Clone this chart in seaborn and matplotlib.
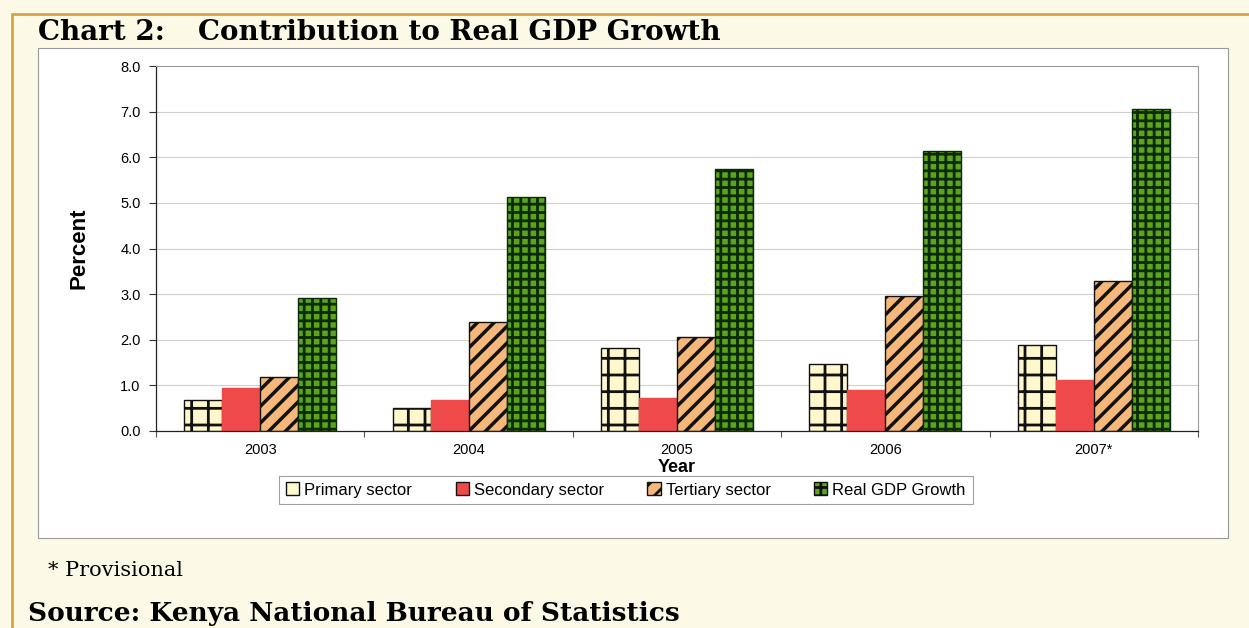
import matplotlib
matplotlib.use("Agg")
import matplotlib.pyplot as plt
from matplotlib.patches import Patch, Rectangle
from matplotlib.lines import Line2D
import numpy as np
import pandas as pd
import seaborn as sns

years = ["2003", "2004", "2005", "2006", "2007*"]
sectors = ["Primary sector", "Secondary sector", "Tertiary sector", "Real GDP Growth"]
primary = [0.68, 0.50, 1.82, 1.47, 1.89]
secondary = [0.94, 0.68, 0.72, 0.90, 1.12]
tertiary = [1.18, 2.39, 2.06, 2.96, 3.29]
gdp_growth = [2.92, 5.13, 5.75, 6.14, 7.06]

colors = ["#fff8cc", "#ef4a4a", "#f6b87a", "#5aa51c"]
hatches = ["+", "", "//", "++"]
edges = ["#111111", "#ef4a4a", "#111111", "#0d2a05"]

df = pd.DataFrame({
    "Year": years * 4,
    "Sector": [s for s in sectors for _ in years],
    "Value": primary + secondary + tertiary + gdp_growth,
})

sns.set_theme(style="white")
plt.rcParams["hatch.linewidth"] = 2.0
plt.rcParams["font.family"] = ["Liberation Sans", "DejaVu Sans"]
for key in ["text.color", "axes.labelcolor", "xtick.labelcolor", "ytick.labelcolor"]:
    plt.rcParams[key] = "black"

cream = "#fcf9e6"
fig = plt.figure(figsize=(12.49, 6.28), dpi=100, facecolor=cream)

# page frame: orange rule on top/left, white panel holding the chart
fig.add_artist(Line2D([12 / 1249, 1.0], [1 - 14 / 628, 1 - 14 / 628], color="#d9a441", lw=2))
fig.add_artist(Line2D([12 / 1249, 12 / 1249], [0, 1 - 14 / 628], color="#d9a441", lw=2))
fig.add_artist(Rectangle((38 / 1249, 1 - 538 / 628), (1228 - 38) / 1249, (538 - 48) / 628,
                         facecolor="white", edgecolor="#9a9a9a", lw=0.8, zorder=0))

ax = fig.add_axes([156 / 1249, 1 - 431 / 628, (1198 - 156) / 1249, (431 - 66) / 628])
ax.set_facecolor("white")

sns.barplot(data=df, x="Year", y="Value", hue="Sector", hue_order=sectors,
            palette=colors, width=0.73, saturation=1, legend=False, ax=ax)

for cont, h, ec in zip(ax.containers, hatches, edges):
    for bar in cont:
        bar.set_hatch(h)
        bar.set_edgecolor(ec)
        bar.set_linewidth(1.0)
        if hasattr(bar, "set_hatch_linewidth"):
            bar.set_hatch_linewidth(2.5 if h == "//" else 2.0)

ax.set_ylim(0, 8)
ax.set_xlim(-0.5, 4.5)
ax.set_yticks(np.arange(0, 8.01, 1.0))
ax.set_yticklabels([f"{v:.1f}" for v in np.arange(0, 8.01, 1.0)], fontsize=10.5)
ax.yaxis.grid(True, color="#cfcfcf", lw=0.8)
ax.set_axisbelow(True)
ax.tick_params(axis="y", left=True, length=5, width=0.8, color="#333333", pad=6)
ax.set_xticks(range(len(years)))
ax.set_xticklabels(years, fontsize=10.5)
ax.tick_params(axis="x", bottom=False, pad=3)
ax.set_xticks(np.arange(-0.5, 4.6, 1.0), minor=True)
ax.tick_params(axis="x", which="minor", bottom=True, length=4, width=0.8, color="#555555")

for side in ["top", "right"]:
    ax.spines[side].set_color("#9a9a9a")
    ax.spines[side].set_linewidth(0.8)
for side in ["left", "bottom"]:
    ax.spines[side].set_color("#222222")
    ax.spines[side].set_linewidth(0.9)

ax.set_ylabel("Percent", fontsize=16, fontweight="bold", labelpad=22)
ax.set_xlabel("Year", fontsize=13, fontweight="bold", labelpad=1)

handles = [Patch(facecolor=c, edgecolor=("#111111" if h else c), hatch=h, label=s)
           for c, h, s in zip(colors, ["", "", "//", "++"], sectors)]
leg = fig.legend(handles=handles, loc="center", bbox_to_anchor=(626 / 1249, 1 - 490 / 628),
                 ncol=4, fontsize=12, frameon=True, fancybox=False, edgecolor="#888888",
                 handlelength=0.8, handleheight=0.8, handletextpad=0.3, columnspacing=2.6,
                 borderpad=0.4, borderaxespad=0)
leg.get_frame().set_linewidth(0.8)
for p in leg.get_patches():
    p.set_edgecolor("#111111")

serif = ["DejaVu Serif"]
fig.text(38 / 1249, 1 - 33 / 628, "Chart 2:", family=serif, fontsize=20, fontweight="bold",
         va="center", ha="left")
fig.text(198 / 1249, 1 - 33 / 628, "Contribution to Real GDP Growth", family=serif, fontsize=20,
         fontweight="bold", va="center", ha="left")
fig.text(48 / 1249, 1 - 571 / 628, "* Provisional", family=serif, fontsize=15,
         va="center", ha="left")
fig.text(28 / 1249, 1 - 614 / 628, "Source: Kenya National Bureau of Statistics", family=serif,
         fontsize=19, fontweight="bold", va="center", ha="left")

fig.savefig("out.png", dpi=100, facecolor=cream)
